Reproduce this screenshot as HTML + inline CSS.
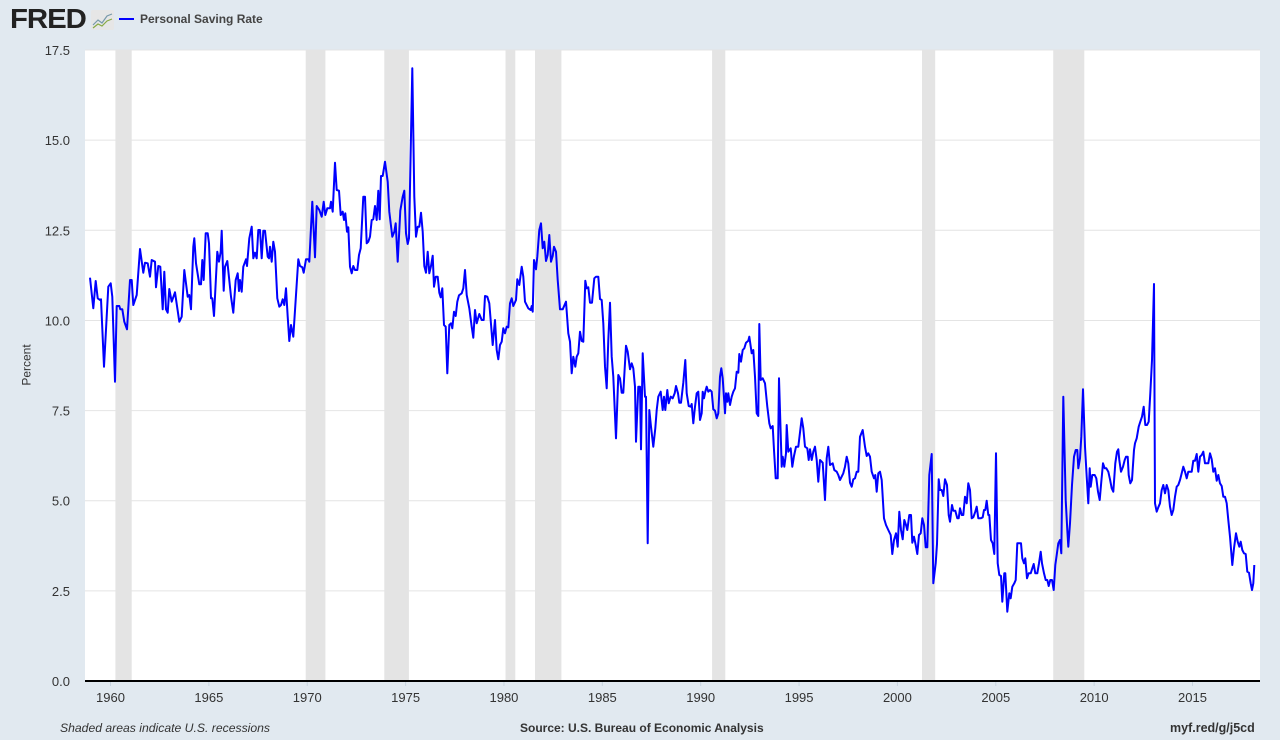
<!DOCTYPE html>
<html><head><meta charset="utf-8"><style>
body{margin:0;width:1280px;height:740px;background:#e1e9f0;font-family:"Liberation Sans",sans-serif;overflow:hidden;position:relative}
.t{position:absolute;color:#333;font-size:13px}
</style></head><body>
<div class="t" style="left:10px;top:3px;font-size:28px;font-weight:900;color:#222;letter-spacing:-1px;transform:scaleX(1.05);transform-origin:left">FRED</div>
<svg style="position:absolute;left:91px;top:10px" width="23" height="20"><rect x="0" y="0" width="23" height="20" rx="2" fill="#e6e6e6"/><polyline points="2,15 7,10 11,13 16,6 21,4" fill="none" stroke="#79a" stroke-width="1.2"/><polyline points="2,18 7,14 11,16 16,11 21,9" fill="none" stroke="#8a4" stroke-width="1.2"/></svg>
<div style="position:absolute;left:119px;top:18px;width:15px;height:2px;background:#00f"></div>
<div class="t" style="left:140px;top:12px;font-size:12px;font-weight:bold;color:#444">Personal Saving Rate</div>
<svg id="s" style="position:absolute;left:0;top:0" width="1280" height="740"></svg>
<div class="t" style="left:6px;top:358px;transform:rotate(-90deg);transform-origin:center;font-size:12px">Percent</div>
<div class="t" style="left:60px;top:721px;font-style:italic;font-size:12.2px">Shaded areas indicate U.S. recessions</div>
<div class="t" style="left:520px;top:721px;font-weight:bold;font-size:12px">Source: U.S. Bureau of Economic Analysis</div>
<div class="t" style="left:1170px;top:721px;font-weight:bold;font-size:12.5px">myf.red/g/j5cd</div>
<script>
var s='';
s+='<rect x="85" y="50" width="1175" height="631" fill="#fff"/>';
var rec=[[1960.25,1961.08],[1969.92,1970.92],[1973.92,1975.17],[1980.08,1980.58],[1981.58,1982.92],[1990.58,1991.25],[2001.25,2001.92],[2007.92,2009.5]];
function X(y){return 110.5+(y-1960)*19.673;}
rec.forEach(function(r){s+='<rect x="'+X(r[0]).toFixed(1)+'" y="50" width="'+(X(r[1])-X(r[0])).toFixed(1)+'" height="631" fill="#e4e4e4"/>';});
for(var i=0;i<=7;i++){var y=681-i*90.14;if(i>0)s+='<line x1="85" x2="1260" y1="'+y+'" y2="'+y+'" stroke="#e4e4e4" stroke-width="1"/>';
s+='<text x="70" y="'+(y+5)+'" text-anchor="end" font-size="13" fill="#333" font-family="Liberation Sans">'+(i*2.5).toFixed(1)+'</text>';}
for(var yr=1960;yr<=2015;yr+=5){var x=X(yr);s+='<line x1="'+x+'" x2="'+x+'" y1="681" y2="686" stroke="#c8d4e0"/><text x="'+x+'" y="702" text-anchor="middle" font-size="13" fill="#333" font-family="Liberation Sans">'+yr+'</text>';}
s+='<line x1="85" x2="1260" y1="681" y2="681" stroke="#000" stroke-width="2"/>';
var z1=[15,683,25,775,32,693,38,745,45,750,48,748,57,950,70,710,77,700,82,740,90,995,95,768,103,768,106,778,112,778,118,815,126,838,135,690,140,690,145,765,155,735,165,597,175,668,180,638,188,640,195,680,200,630,210,635,213,712,220,648,226,650,233,778,238,665,243,778,248,788,253,717,260,755,270,727,283,815,290,800,298,660,308,740,313,735,318,778,325,590,328,565,333,640,343,703,348,703,352,630,356,690,362,550,368,550,372,580,378,745,382,745,387,798,397,605,402,635,407,605,410,542,416,722,420,650,427,633,438,740,445,788,452,690,458,670,462,723,465,690,470,725,475,650,483,628,486,648,493,565,500,530,505,625,510,608,515,625,520,540,525,540,530,625,535,542,540,542,548,620,552,625,555,590,560,635,565,575,570,605,577,745,583,770,588,765,593,748,598,765,603,715,608,800,613,873,618,825,625,860,640,628,645,648,652,652,656,668,663,628,670,628,673,635,682,455,690,622,695,468,703,480,710,500,716,455,721,495,727,475,735,475,738,455,743,485,750,338,755,420,762,422,767,495,773,485,777,510,781,490,786,545,790,532,795,650,800,670,805,648,810,660,817,660,822,615,827,595,835,440,840,440,845,580,850,575,855,560,860,510,865,508,870,468,875,510,880,422,884,508,888,378,893,378,900,335,908,395,913,485,922,560,928,545,932,520,938,635,946,482,953,440,958,422,963,550,968,582,972,565,982,55,988,440,993,560,998,530,1003,530,1008,488,1013,545,1018,648,1023,668,1028,605,1033,670,1038,648,1043,617,1047,710,1052,680,1058,680,1063,728,1067,742,1072,715,1077,825,1082,830,1087,970,1093,825,1098,820,1102,835,1107,785,1112,798,1117,755,1122,736,1130,730,1135,715,1140,660,1145,735,1153,775,1160,830,1165,863,1170,780,1175,820,1183,792,1190,810,1196,810,1200,738];
var z2=[22,350,28,370,38,495,45,420,50,510,55,538,60,495,65,485,70,445,75,460,80,440,85,442,90,370,95,355,100,378,108,360,112,298,118,315,125,260,130,290,135,365,145,385,152,390,155,378,158,395,162,240,168,268,172,230,178,150,183,130,188,205,193,185,198,243,203,225,208,165,213,245,218,228,222,200,228,215,233,300,240,388,248,388,258,365,265,460,270,485,275,580,280,530,286,560,290,530,295,520,300,455,305,483,310,485,316,302,320,325,325,322,330,368,336,368,343,295,348,290,355,290,360,357,365,360,370,430,375,560,380,625,385,480,390,368,395,530,400,590,408,775,415,585,420,595,425,638,430,638,438,497,443,515,450,568,455,550,460,565,465,620,468,785,475,620,480,620,483,808,488,520,495,650,498,650,503,1090,508,690,513,740,520,800,526,745,530,690,535,650,542,635,548,690,552,650,556,690,562,630,566,670,572,650,578,655,584,640,588,618,594,640,598,668,603,668,610,608,616,540,620,640,626,678,632,680,635,672,640,730,645,680,650,640,655,635,660,720,665,700,668,635,672,655,676,635,680,620,685,635,690,630,695,635,700,688,705,692,710,715,715,700,720,590,724,565,728,595,735,700,738,640,742,665,745,640,750,675,755,650,760,635,765,625,770,575,775,578,778,522,783,545,788,510,793,505,798,488,805,482,808,470,815,520,820,510,825,590,830,700,835,708,838,432,842,600,848,595,855,610,862,680,868,730,872,745,878,738,882,810,887,895,893,895,897,595,905,860,908,830,913,860,918,820,920,735,925,815,932,805,937,860,942,828,948,800,955,800,965,715,970,745,975,800,982,805,986,840,990,808,995,840,1000,815,1005,800,1010,840,1015,905,1020,840,1028,848,1035,960,1040,835,1045,800,1050,855,1058,850,1063,870,1070,875,1075,885,1080,900,1090,880,1095,860,1100,830,1105,850,1110,908,1115,920,1120,898,1125,895,1130,875,1135,875,1140,770,1148,750,1155,800,1160,828,1165,820,1170,830,1175,875,1182,895,1186,885,1190,935,1195,880,1200,875];
var z3=[35,630,42,745,48,765,55,780,62,795,67,852,72,810,78,790,83,830,88,725,93,780,98,808,103,750,108,765,112,780,118,735,123,735,127,818,132,800,137,825,142,852,147,795,152,790,157,745,162,765,167,832,172,832,178,615,185,552,190,940,197,880,201,822,206,628,210,660,215,660,220,678,225,628,231,645,236,735,240,755,246,705,250,722,256,722,262,745,266,745,270,715,275,735,280,735,285,680,290,700,295,640,300,660,305,745,310,742,316,725,320,710,325,745,332,745,338,742,342,720,346,720,350,692,355,735,358,735,363,810,368,820,373,852,378,550,383,880,388,915,393,918,397,995,403,910,406,910,412,1025,418,970,422,985,427,950,433,940,437,930,442,820,453,820,457,865,462,880,466,865,471,925,476,910,482,910,487,895,491,882,496,910,502,910,507,880,512,845,516,880,522,910,527,930,532,930,536,948,541,930,546,930,551,960,556,885,560,855,565,820,570,810,574,850,580,380,587,690,592,780,595,830,600,760,606,645,612,560,617,540,622,540,625,595,630,565,634,500,639,358,645,530,650,620,655,700,659,595,662,650,667,615,674,615,679,625,684,665,689,690,694,635,699,580,704,595,709,595,715,605,720,628,725,655,730,665,736,580,741,545,745,538,748,570,753,605,759,590,764,570,768,560,773,560,776,615,781,640,786,630,792,540,795,520,800,505,806,470,811,455,816,440,821,410,826,465,831,465,836,455,841,370,846,270,852,42,855,700,860,725,865,712,870,700,875,660,880,645,885,670,890,645,895,660,900,710,905,735,910,720,915,680,920,650,925,645,930,630,935,610,940,590,945,605,950,625,955,605,965,605,970,572,975,572,980,552,985,605,990,560,995,555,1000,545,1005,580,1015,580,1020,550,1025,568,1030,605,1035,595,1040,632,1045,615,1050,640,1055,648,1060,680,1065,680,1070,700,1075,750,1080,800,1087,885,1092,835,1098,790,1103,815,1108,830,1112,815,1117,840,1122,850,1127,852,1132,905,1137,908,1142,940,1146,960,1150,940,1153,885];
var p=[];
function add(a,ox,oy){for(var i=0;i<a.length;i+=2)p.push((ox+a[i]/3).toFixed(1)+','+(oy+a[i+1]/3).toFixed(1));}
add(z1,85,50);add(z2,480,180);add(z3,870,270);
s+='<polyline points="'+p.join(' ')+'" fill="none" stroke="#0000ff" stroke-width="2" stroke-linejoin="round"/>';
document.getElementById('s').innerHTML=s;
</script>
</body></html>
